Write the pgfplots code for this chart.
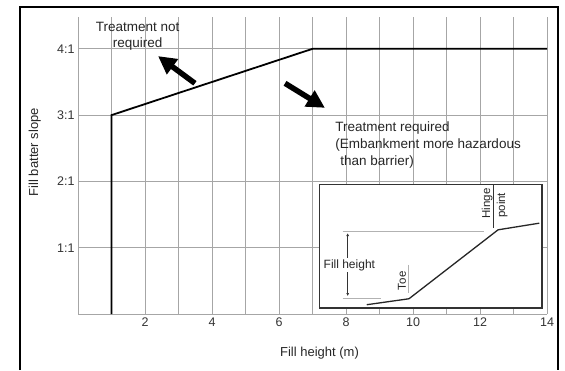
\documentclass[border=0pt]{standalone}
\usepackage{fontspec}
\setmainfont{Liberation Sans}
\usepackage{pgfplots}
\pgfplotsset{compat=1.18}
\usetikzlibrary{arrows.meta}
\begin{document}
\begin{tikzpicture}[x=1pt,y=1pt]
\useasboundingbox (0,0) rectangle (565,370);
\draw[line width=2pt] (20,0) -- (20,363) -- (558,363) -- (558,0);
\begin{axis}[
  at={(78pt,56pt)}, anchor=south west, scale only axis,
  width=469pt, height=297pt,
  xmin=0, xmax=14, ymin=0, ymax=4.48,
  axis x line*=bottom, axis y line*=left,
  axis line style={draw=black!35, -, line width=0.8pt},
  xtick={2,4,...,14}, minor xtick={1,3,...,13},
  ytick={1,2,3,4}, yticklabels={1:1,2:1,3:1,4:1},
  grid=both,
  major grid style={draw=black!35, line width=0.8pt},
  minor grid style={draw=black!35, line width=0.8pt},
  major tick length=0pt, minor tick length=0pt,
  tick label style={font=\fontsize{12.5}{14}\selectfont, text=black!80},
  /pgf/number format/assume math mode=true,
  xlabel={Fill height (m)}, ylabel={Fill batter slope},
  label style={font=\fontsize{13}{15}\selectfont, text=black!85},
  xlabel style={at={(axis description cs:0.515,-0.131)}, anchor=center},
  ylabel style={at={(axis description cs:-0.092,0.545)}, anchor=center},
  clip=false,
]
% main criterion line
\addplot[black, line width=1.8pt, line join=miter] coordinates {(1,0) (1,3) (7,4) (14,4)};

% arrows
\draw[line width=5.5pt, -{Triangle[length=18pt,width=18pt]}] (axis cs:3.49,3.48) -- (axis cs:2.39,3.89);
\draw[line width=5.5pt, -{Triangle[length=18pt,width=18pt]}] (axis cs:6.18,3.48) -- (axis cs:7.37,3.11);

% annotations
\node[align=center, font=\fontsize{13.5}{16}\selectfont, text=black!85] at (axis cs:1.78,4.19) {Treatment not\\required};
\node[align=left, anchor=west, font=\fontsize{13.5}{17}\selectfont, text=black!85] at (axis cs:7.58,2.55) {Treatment required\\(Embankment more hazardous\\\hspace*{5pt}than barrier)};

% inset box
\addplot[fill=white, draw=black!80, line width=1.2pt] coordinates {(7.2,0.09) (13.85,0.09) (13.85,1.95) (7.2,1.95)} -- cycle;
% profile
\addplot[black!85, line width=1.3pt] coordinates {(8.62,0.14) (9.88,0.23) (12.54,1.27) (13.77,1.37)};
% dimension lines
\addplot[black!30, line width=0.8pt] coordinates {(7.9,1.25) (12.13,1.25)};
\addplot[black!30, line width=0.8pt] coordinates {(7.9,0.24) (9.04,0.24)};
\addplot[black!30, line width=0.8pt] coordinates {(9.86,0.74) (9.86,0.32)};
\addplot[black!80, line width=0.8pt] coordinates {(12.41,1.95) (12.41,1.3)};
\draw[black!80, line width=0.8pt, {Latex[length=3pt,width=3pt]}-{Latex[length=3pt,width=3pt]}] (axis cs:8.05,1.22) -- (axis cs:8.05,0.27);
\node[fill=white, inner sep=1pt, font=\fontsize{12}{13}\selectfont, text=black!85] at (axis cs:8.1,0.74) {Fill height};
\node[rotate=90, font=\fontsize{11.5}{13}\selectfont, text=black!85] at (axis cs:9.67,0.5) {Toe};
\node[rotate=90, font=\fontsize{11.5}{13}\selectfont, text=black!85] at (axis cs:12.21,1.67) {Hinge};
\node[rotate=90, font=\fontsize{11.5}{13}\selectfont, text=black!85] at (axis cs:12.66,1.64) {point};
\end{axis}
\end{tikzpicture}
\end{document}
